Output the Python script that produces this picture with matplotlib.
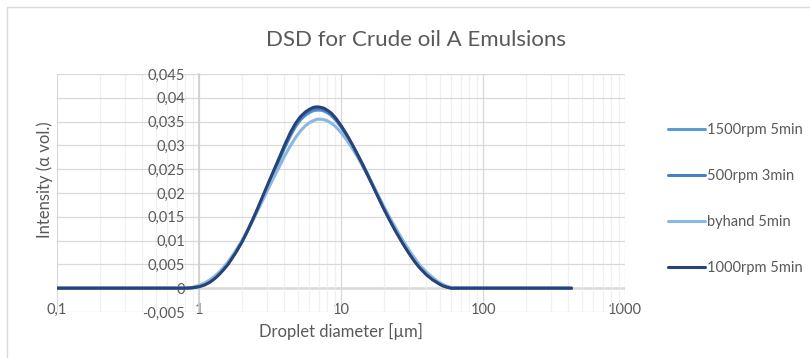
import numpy as np
import matplotlib.pyplot as plt
from matplotlib.patches import Rectangle
from matplotlib.ticker import FixedLocator, LogLocator, NullFormatter

plt.rcParams['font.family'] = ['Lato', 'DejaVu Sans']

# droplet size classes (um) and volume intensity for each emulsion
diametro = [0.1, 0.3, 0.6, 0.8, 0.9,
            1.0, 1.1, 1.2, 1.3, 1.4, 1.5, 1.6,
            1.8, 2.0, 2.2, 2.4, 2.6, 2.8, 3.0,
            3.3, 3.6,
            4.0, 4.4, 4.8, 5.2, 5.6, 6.0, 6.4, 6.8,
            7.2, 7.6, 8.1, 8.6, 9.2,
            10, 11, 12, 13, 14,
            15.5, 17, 18.5, 20,
            22, 24, 26, 28, 30,
            33, 36, 40, 44, 48, 52, 56, 60,
            100, 200, 420]

rpm1500_5min = [0, 0, 0, 0, 0.0001,
                0.0004, 0.0008, 0.0015, 0.0023, 0.0032, 0.0042, 0.0052,
                0.0075, 0.0098, 0.0121, 0.0145, 0.0167, 0.0189, 0.0209,
                0.0238, 0.0263,
                0.0294, 0.0320, 0.0340, 0.0354, 0.0363, 0.0369, 0.0373, 0.0374,
                0.0374, 0.0372, 0.0368, 0.0362, 0.0353,
                0.0339, 0.0320, 0.0301, 0.0282, 0.0264,
                0.0238, 0.0213, 0.0191, 0.0170,
                0.0146, 0.0125, 0.0107, 0.0091, 0.0077,
                0.0059, 0.0045, 0.0031, 0.0020, 0.0012, 0.0006, 0.0003, 0.0001,
                0, 0, 0]
rpm500_3min = [0, 0, 0, 0, 0.0001,
               0.0004, 0.0008, 0.0014, 0.0022, 0.0031, 0.0041, 0.0051,
               0.0074, 0.0097, 0.0121, 0.0145, 0.0168, 0.0190, 0.0211,
               0.0240, 0.0265,
               0.0297, 0.0323, 0.0343, 0.0357, 0.0366, 0.0372, 0.0376, 0.0377,
               0.0376, 0.0374, 0.0370, 0.0364, 0.0355,
               0.0340, 0.0321, 0.0301, 0.0282, 0.0263,
               0.0237, 0.0212, 0.0189, 0.0168,
               0.0144, 0.0123, 0.0105, 0.0089, 0.0075,
               0.0057, 0.0043, 0.0029, 0.0019, 0.0011, 0.0006, 0.0002, 0,
               0, 0, 0]
byhand_5min = [0, 0, 0, 0, 0.0002,
               0.0006, 0.0011, 0.0018, 0.0026, 0.0035, 0.0045, 0.0055,
               0.0077, 0.0099, 0.0121, 0.0143, 0.0164, 0.0184, 0.0202,
               0.0228, 0.0250,
               0.0277, 0.0299, 0.0317, 0.0331, 0.0341, 0.0348, 0.0352, 0.0355,
               0.0355, 0.0354, 0.0351, 0.0346, 0.0339,
               0.0327, 0.0311, 0.0294, 0.0277, 0.0260,
               0.0236, 0.0213, 0.0192, 0.0172,
               0.0149, 0.0129, 0.0111, 0.0095, 0.0081,
               0.0063, 0.0048, 0.0034, 0.0023, 0.0014, 0.0008, 0.0004, 0.0001,
               0, 0, 0]
rpm1000_5min = [0, 0, 0, 0, 0.0001,
                0.0003, 0.0007, 0.0013, 0.0021, 0.0030, 0.0040, 0.0050,
                0.0073, 0.0096, 0.0121, 0.0145, 0.0169, 0.0192, 0.0213,
                0.0242, 0.0268,
                0.0300, 0.0327, 0.0347, 0.0361, 0.0370, 0.0376, 0.0380, 0.0381,
                0.0380, 0.0378, 0.0373, 0.0367, 0.0357,
                0.0342, 0.0322, 0.0302, 0.0282, 0.0263,
                0.0236, 0.0211, 0.0188, 0.0167,
                0.0143, 0.0122, 0.0104, 0.0088, 0.0074,
                0.0056, 0.0042, 0.0028, 0.0018, 0.0011, 0.0005, 0.0002, 0,
                0, 0, 0]

series = [('1500rpm 5min', rpm1500_5min, '#5B9BD5'),
          ('500rpm 3min', rpm500_3min, '#4A7EC4'),
          ('byhand 5min', byhand_5min, '#8DB6E2'),
          ('1000rpm 5min', rpm1000_5min, '#264478')]

y_ticks = [-0.005, 0, 0.005, 0.01, 0.015, 0.02, 0.025, 0.03, 0.035, 0.04, 0.045]
x_ticks = [0.1, 1, 10, 100, 1000]

gris = '#595959'
rejilla = '#D9D9D9'

fig = plt.figure(figsize=(8.1, 3.58), dpi=100)
fig.patches.append(Rectangle((7 / 810, -0.1), 1.0, 1.0 - 7 / 358 + 0.1,
                             transform=fig.transFigure, fill=False,
                             edgecolor='#D9D9D9', lw=1.0))
ax = fig.add_axes([57 / 810, 1 - 312 / 358, (625 - 57) / 810, (312 - 74) / 358])

for nombre, valores, color in series:
    ax.plot(diametro, valores, color=color, lw=2.2, label=nombre,
            solid_capstyle='round', solid_joinstyle='round', zorder=3)

ax.set_xscale('log')
ax.set_xlim(0.1, 1000)
ax.set_ylim(-0.005, 0.045)

ax.xaxis.set_major_locator(FixedLocator(x_ticks))
ax.xaxis.set_minor_locator(LogLocator(base=10, subs=np.arange(2, 10)))
ax.xaxis.set_minor_formatter(NullFormatter())
ax.set_xticklabels(['0,1', '1', '10', '100', '1000'])
ax.yaxis.set_major_locator(FixedLocator(y_ticks))
ax.set_yticklabels([('%g' % v).replace('.', ',') for v in y_ticks])

ax.grid(True, which='major', color=rejilla, lw=0.9, zorder=0)
ax.grid(True, which='minor', axis='x', color='#F0F0F0', lw=0.9, zorder=0)
ax.axhline(0, color=rejilla, lw=1.8, zorder=1)

for lado in ['top', 'right', 'bottom']:
    ax.spines[lado].set_visible(False)
ax.spines['left'].set_position(('data', 1))
ax.spines['left'].set_color('#CFCFCF')
ax.spines['left'].set_linewidth(1.2)

ax.tick_params(axis='both', which='both', length=0, colors=gris, labelsize=10.5)
ax.tick_params(axis='y', pad=10)
ax.tick_params(axis='x', pad=-6.5)

ax.set_xlabel('Droplet diameter [µm]', color=gris, fontsize=12, labelpad=4)
fig.text(45 / 810, 1 - 180 / 358, 'Intensity (α vol.)', color=gris, fontsize=12,
         rotation=90, ha='center', va='center')
fig.text(416 / 810, 1 - 40 / 358, 'DSD for Crude oil A Emulsions', color=gris,
         fontsize=16, ha='center', va='center')

ax.legend(loc='upper left', bbox_to_anchor=(655 / 810, 1 - 110 / 358),
          bbox_transform=fig.transFigure, frameon=False, handlelength=2.5,
          handletextpad=0.15, labelspacing=2.2, fontsize=10.5, labelcolor=gris)

fig.savefig('out.png', dpi=100)
